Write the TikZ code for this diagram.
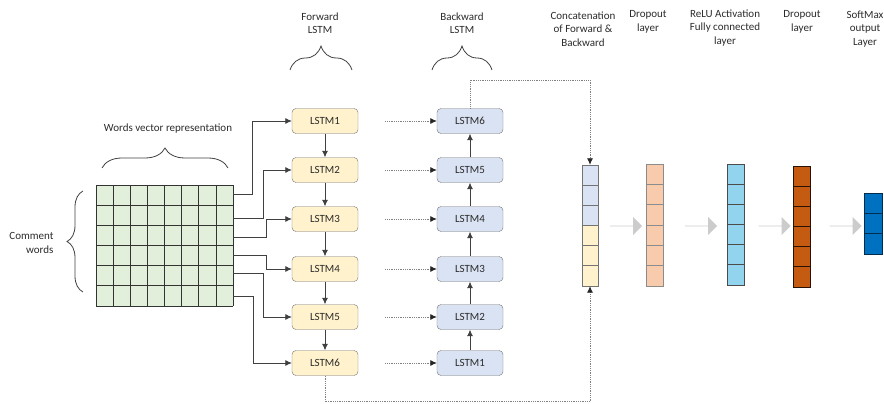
\documentclass[tikz,border=0pt]{standalone}
\usepackage{fontspec}
\setmainfont{Carlito}
\usetikzlibrary{decorations.pathreplacing,shapes.arrows,arrows.meta}

\definecolor{fwdfill}{HTML}{FFF2CC}
\definecolor{bwdfill}{HTML}{DAE3F3}
\definecolor{wordfill}{HTML}{E2EFDA}
\definecolor{dropfill}{HTML}{F8CBAD}
\definecolor{relufill}{HTML}{92D4EE}
\definecolor{dropfillb}{HTML}{C55A11}
\definecolor{softfill}{HTML}{0070C0}
\definecolor{txt}{HTML}{2B2B2B}

\begin{document}
\begin{tikzpicture}[x=1pt,y=-1pt,
	lstm/.style={draw=black!55,fill=#1,rounded corners=4pt,minimum width=66pt,minimum height=25pt,inner sep=0pt,font=\fontsize{11}{13}\selectfont,text=txt},
	conn/.style={draw=black!75,line width=0.8pt,-{Latex[length=6.5pt,width=6pt]}},
	dots/.style={draw=black!50,densely dotted,line width=0.8pt,-{Latex[length=6.5pt,width=6pt,color=black!85]}},
	lbl/.style={align=center,font=\fontsize{11}{13.5}\selectfont,text=txt},
	brc/.style={decorate,decoration={brace,amplitude=#1},draw=black!75,line width=0.8pt},
	blk/.style={single arrow,fill=black!20,minimum height=32pt,minimum width=18pt,single arrow head extend=4.5pt,single arrow head indent=0pt,inner sep=0pt},
	cell/.style={draw=#1,line width=0.7pt}]
	\useasboundingbox (0,0) rectangle (884,404);

	\node[fill=wordfill,minimum width=137pt,minimum height=121pt,inner sep=0pt] (wv) at (164.5,245.5) {};
	\foreach \i in {0,...,8}{
		\draw[black!80,line width=0.7pt] (96+17.125*\i,185) -- (96+17.125*\i,306);
	}
	\foreach \j in {0,...,6}{
		\draw[black!80,line width=0.7pt] (96,185+20.167*\j) -- (233,185+20.167*\j);
	}
	\draw[brc=20pt] (102,168) -- (228,168);
	\node[lbl] (wvlbl) at (168,129) {Words vector representation};
	\draw[brc=16pt] (83,292) -- (83,191);
	\node[lbl,align=right,anchor=east] (cmlbl) at (57,243) {Comment\\words};

	\foreach \n/\y in {1/121,2/170,3/219,4/269,5/317,6/363}{
		\node[lstm=fwdfill] (f\n) at (325,\y) {LSTM\n};
	}
	\foreach \n/\y in {6/121,5/170,4/219,3/269,2/317,1/363}{
		\node[lstm=bwdfill] (b\n) at (470,\y) {LSTM\n};
	}
	\foreach \a/\b in {1/2,2/3,3/4,4/5,5/6}{
		\draw[conn] (f\a) -- (f\b);
		\draw[conn] (b\a) -- (b\b);
	}
	\foreach \a/\b in {1/6,2/5,3/4,4/3,5/2,6/1}{
		\draw[dots] ([xshift=27pt]f\a.east) -- (b\b);
	}
	\foreach \n/\y/\dx in {1/194/19,2/218/30,3/237/33,4/255/33,5/273/30,6/296/20}{
		\coordinate (w\n) at (233,\y);
		\draw[conn] (w\n) -- ++(\dx,0) |- (f\n);
	}

	\node[lbl] (fwdlbl) at (320,23) {Forward\\LSTM};
	\draw[brc=24pt] (290,70) -- (352,70);
	\node[lbl] (bwdlbl) at (462,23) {Backward\\LSTM};
	\draw[brc=24pt] (432,70) -- (492,70);

	\foreach \k/\c in {0/bwdfill,1/bwdfill,2/bwdfill,3/fwdfill,4/fwdfill,5/fwdfill}{
		\draw[cell=black!55,fill=\c] (582,165+20.167*\k) rectangle ++(16,20.167);
	}
	\node[minimum width=16pt,minimum height=121pt,inner sep=0pt] (cat) at (590,225.5) {};
	\draw[dots] (b6.north) -- ++(0,-28) -| (cat.north);
	\draw[dots] (f6.south) -- ++(0,26) -| (cat.south);

	\foreach \k in {0,...,5}{
		\draw[cell=black!45,fill=dropfill] (646,164+20.333*\k) rectangle ++(17,20.333);
		\draw[cell=black!70,fill=relufill] (727,164+20.167*\k) rectangle ++(17,20.167);
		\draw[cell=black!80!dropfillb,fill=dropfillb] (793,166+20.167*\k) rectangle ++(17,20.167);
	}
	\foreach \k in {0,...,2}{
		\draw[cell=black!60!softfill,fill=softfill] (864,193+20.333*\k) rectangle ++(18,20.333);
	}

	\node[blk] (a1) at (626,226) {};
	\node[blk] (a2) at (701,226) {};
	\node[blk] (a3) at (774.5,226) {};
	\node[blk] (a4) at (845.5,226) {};

	\node[lbl] (catlbl) at (583,29) {Concatenation\\of Forward \&\\Backward};
	\node[lbl] (drlbl) at (648,22) {Dropout\\layer};
	\node[lbl] (relulbl) at (725,28) {ReLU Activation\\Fully connected\\layer};
	\node[lbl] (drlblb) at (802,22) {Dropout\\layer};
	\node[lbl] (smlbl) at (865,29) {SoftMax\\output\\Layer};
\end{tikzpicture}
\end{document}
